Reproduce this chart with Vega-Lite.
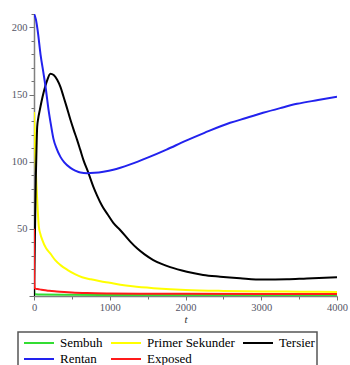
{
  "$schema": "https://vega.github.io/schema/vega-lite/v6.json",
  "width": 303,
  "height": 282,
  "autosize": {"type": "none"},
  "padding": {"left": 34, "top": 14, "right": 13, "bottom": 69},
  "background": "white",
  "config": {
    "view": {"stroke": null},
    "legend": {"strokeColor": "#555555", "strokeWidth": 1.5}
  },
  "data": {
    "values": [
      {"s": "Sembuh", "t": 0, "v": 10},
      {"s": "Sembuh", "t": 3, "v": 4},
      {"s": "Sembuh", "t": 8, "v": 1.8},
      {"s": "Sembuh", "t": 20, "v": 1.3},
      {"s": "Sembuh", "t": 100, "v": 1.1},
      {"s": "Sembuh", "t": 500, "v": 0.9},
      {"s": "Sembuh", "t": 1000, "v": 0.8},
      {"s": "Sembuh", "t": 2000, "v": 0.7},
      {"s": "Sembuh", "t": 3000, "v": 0.7},
      {"s": "Sembuh", "t": 4000, "v": 0.7},

      {"s": "Primer Sekunder", "t": 0, "v": 137},
      {"s": "Primer Sekunder", "t": 8, "v": 122},
      {"s": "Primer Sekunder", "t": 18, "v": 103},
      {"s": "Primer Sekunder", "t": 28, "v": 88},
      {"s": "Primer Sekunder", "t": 42, "v": 72},
      {"s": "Primer Sekunder", "t": 63, "v": 52},
      {"s": "Primer Sekunder", "t": 85, "v": 46},
      {"s": "Primer Sekunder", "t": 108, "v": 42},
      {"s": "Primer Sekunder", "t": 160, "v": 35.5},
      {"s": "Primer Sekunder", "t": 217, "v": 31.5},
      {"s": "Primer Sekunder", "t": 283, "v": 26.5},
      {"s": "Primer Sekunder", "t": 350, "v": 23},
      {"s": "Primer Sekunder", "t": 440, "v": 19.5},
      {"s": "Primer Sekunder", "t": 540, "v": 16.3},
      {"s": "Primer Sekunder", "t": 635, "v": 14},
      {"s": "Primer Sekunder", "t": 750, "v": 12.4},
      {"s": "Primer Sekunder", "t": 876, "v": 11},
      {"s": "Primer Sekunder", "t": 1000, "v": 9.8},
      {"s": "Primer Sekunder", "t": 1140, "v": 8.4},
      {"s": "Primer Sekunder", "t": 1300, "v": 7.2},
      {"s": "Primer Sekunder", "t": 1578, "v": 5.8},
      {"s": "Primer Sekunder", "t": 1800, "v": 5},
      {"s": "Primer Sekunder", "t": 2000, "v": 4.5},
      {"s": "Primer Sekunder", "t": 2500, "v": 3.8},
      {"s": "Primer Sekunder", "t": 3000, "v": 3.4},
      {"s": "Primer Sekunder", "t": 3500, "v": 3.2},
      {"s": "Primer Sekunder", "t": 4000, "v": 3.0},

      {"s": "Tersier", "t": 0, "v": 0},
      {"s": "Tersier", "t": 8, "v": 30},
      {"s": "Tersier", "t": 16, "v": 60},
      {"s": "Tersier", "t": 25, "v": 90},
      {"s": "Tersier", "t": 34, "v": 112},
      {"s": "Tersier", "t": 42, "v": 126},
      {"s": "Tersier", "t": 55, "v": 132},
      {"s": "Tersier", "t": 77, "v": 138.6},
      {"s": "Tersier", "t": 100, "v": 145},
      {"s": "Tersier", "t": 130, "v": 152.3},
      {"s": "Tersier", "t": 170, "v": 160},
      {"s": "Tersier", "t": 217, "v": 165.5},
      {"s": "Tersier", "t": 260, "v": 164.5},
      {"s": "Tersier", "t": 306, "v": 161},
      {"s": "Tersier", "t": 350, "v": 155.5},
      {"s": "Tersier", "t": 389, "v": 148.6},
      {"s": "Tersier", "t": 430, "v": 141},
      {"s": "Tersier", "t": 481, "v": 131.2},
      {"s": "Tersier", "t": 525, "v": 123.5},
      {"s": "Tersier", "t": 569, "v": 116.3},
      {"s": "Tersier", "t": 610, "v": 109},
      {"s": "Tersier", "t": 652, "v": 101.4},
      {"s": "Tersier", "t": 718, "v": 91.7},
      {"s": "Tersier", "t": 784, "v": 81.3},
      {"s": "Tersier", "t": 833, "v": 74.8},
      {"s": "Tersier", "t": 900, "v": 67},
      {"s": "Tersier", "t": 975, "v": 60.5},
      {"s": "Tersier", "t": 1047, "v": 54.4},
      {"s": "Tersier", "t": 1140, "v": 49},
      {"s": "Tersier", "t": 1271, "v": 40.5},
      {"s": "Tersier", "t": 1360, "v": 35.5},
      {"s": "Tersier", "t": 1460, "v": 31},
      {"s": "Tersier", "t": 1575, "v": 26.8},
      {"s": "Tersier", "t": 1700, "v": 23.5},
      {"s": "Tersier", "t": 1798, "v": 21.5},
      {"s": "Tersier", "t": 2018, "v": 18.1},
      {"s": "Tersier", "t": 2233, "v": 15.7},
      {"s": "Tersier", "t": 2457, "v": 14.4},
      {"s": "Tersier", "t": 2721, "v": 13.2},
      {"s": "Tersier", "t": 3024, "v": 12.2},
      {"s": "Tersier", "t": 3340, "v": 12.4},
      {"s": "Tersier", "t": 3603, "v": 13.1},
      {"s": "Tersier", "t": 4000, "v": 13.9},

      {"s": "Rentan", "t": 0, "v": 210},
      {"s": "Rentan", "t": 25, "v": 206},
      {"s": "Rentan", "t": 50, "v": 197},
      {"s": "Rentan", "t": 86, "v": 180},
      {"s": "Rentan", "t": 125, "v": 166},
      {"s": "Rentan", "t": 152, "v": 156},
      {"s": "Rentan", "t": 191, "v": 139},
      {"s": "Rentan", "t": 225, "v": 127},
      {"s": "Rentan", "t": 257, "v": 117},
      {"s": "Rentan", "t": 300, "v": 109.5},
      {"s": "Rentan", "t": 349, "v": 103.6},
      {"s": "Rentan", "t": 400, "v": 99.5},
      {"s": "Rentan", "t": 481, "v": 95.4},
      {"s": "Rentan", "t": 550, "v": 93.2},
      {"s": "Rentan", "t": 613, "v": 91.9},
      {"s": "Rentan", "t": 700, "v": 91.5},
      {"s": "Rentan", "t": 800, "v": 91.8},
      {"s": "Rentan", "t": 916, "v": 92.6},
      {"s": "Rentan", "t": 1047, "v": 94},
      {"s": "Rentan", "t": 1140, "v": 95.5},
      {"s": "Rentan", "t": 1271, "v": 98},
      {"s": "Rentan", "t": 1500, "v": 103},
      {"s": "Rentan", "t": 1750, "v": 109},
      {"s": "Rentan", "t": 2000, "v": 115.5},
      {"s": "Rentan", "t": 2250, "v": 121.5},
      {"s": "Rentan", "t": 2589, "v": 129},
      {"s": "Rentan", "t": 2800, "v": 132.5},
      {"s": "Rentan", "t": 3024, "v": 136.4},
      {"s": "Rentan", "t": 3250, "v": 139.9},
      {"s": "Rentan", "t": 3472, "v": 143.1},
      {"s": "Rentan", "t": 3750, "v": 145.9},
      {"s": "Rentan", "t": 4000, "v": 148.3},

      {"s": "Exposed", "t": 0, "v": 50},
      {"s": "Exposed", "t": 2, "v": 30},
      {"s": "Exposed", "t": 4, "v": 12},
      {"s": "Exposed", "t": 8, "v": 6},
      {"s": "Exposed", "t": 20, "v": 5.5},
      {"s": "Exposed", "t": 50, "v": 5.2},
      {"s": "Exposed", "t": 100, "v": 4.6},
      {"s": "Exposed", "t": 150, "v": 4.2},
      {"s": "Exposed", "t": 200, "v": 3.9},
      {"s": "Exposed", "t": 300, "v": 3.3},
      {"s": "Exposed", "t": 400, "v": 2.9},
      {"s": "Exposed", "t": 500, "v": 2.6},
      {"s": "Exposed", "t": 700, "v": 2.2},
      {"s": "Exposed", "t": 1000, "v": 1.9},
      {"s": "Exposed", "t": 1500, "v": 1.7},
      {"s": "Exposed", "t": 2000, "v": 1.6},
      {"s": "Exposed", "t": 3000, "v": 1.5},
      {"s": "Exposed", "t": 4000, "v": 1.5}
    ]
  },
  "mark": {"type": "line", "strokeWidth": 2, "interpolate": "monotone", "clip": true},
  "encoding": {
    "x": {
      "field": "t",
      "type": "quantitative",
      "scale": {"domain": [0, 4000], "nice": false, "zero": false},
      "axis": {
        "values": [0, 500, 1000, 1500, 2000, 2500, 3000, 3500, 4000],
        "format": "d",
        "labelExpr": "datum.value % 1000 === 0 ? datum.label : ''",
        "grid": false,
        "domainColor": "#808080",
        "domainWidth": 1.5,
        "tickColor": "#707070",
        "tickSize": {"condition": {"test": "datum.value % 1000 === 0", "value": 4}, "value": 3},
        "labelFont": "Liberation Serif, DejaVu Serif, serif",
        "labelFontSize": 10.5,
        "labelColor": "#555566",
        "labelPadding": 2,
        "labelOverlap": false,
        "labelFlush": false,
        "labelBound": false,
        "title": "t",
        "titleFont": "Liberation Serif, DejaVu Serif, serif",
        "titleFontStyle": "italic",
        "titleFontWeight": "normal",
        "titleFontSize": 11,
        "titleColor": "#333333",
        "titlePadding": 1
      }
    },
    "y": {
      "field": "v",
      "type": "quantitative",
      "scale": {"domain": [0, 210], "nice": false},
      "axis": {
        "values": [0, 10, 20, 30, 40, 50, 60, 70, 80, 90, 100, 110, 120, 130, 140, 150, 160, 170, 180, 190, 200, 210],
        "labelExpr": "datum.value % 50 === 0 && datum.value > 0 ? datum.label : ''",
        "grid": false,
        "domainColor": "#808080",
        "domainWidth": 1.5,
        "tickColor": "#707070",
        "tickSize": {"condition": {"test": "datum.value % 50 === 0", "value": 5}, "value": 3},
        "labelFont": "Liberation Serif, DejaVu Serif, serif",
        "labelFontSize": 10.5,
        "labelColor": "#555566",
        "labelPadding": 2,
        "labelOverlap": false,
        "labelFlush": false,
        "labelBound": false,
        "title": null
      }
    },
    "color": {
      "field": "s",
      "type": "nominal",
      "scale": {
        "domain": ["Sembuh", "Rentan", "Primer Sekunder", "Exposed", "Tersier"],
        "range": ["#33dd33", "#2222ee", "#ffff00", "#ff1a1a", "#000000"]
      },
      "legend": {
        "orient": "none",
        "legendX": -16,
        "legendY": 318,
        "columns": 3,
        "title": null,
        "symbolType": "M-1.875,0H1.875",
        "symbolSize": 256,
        "symbolStrokeWidth": 2,
        "symbolOffset": 10,
        "labelFont": "Liberation Serif, DejaVu Serif, serif",
        "labelFontSize": 13,
        "labelColor": "#000000",
        "labelOffset": 12,
        "labelLimit": 0,
        "columnPadding": 4,
        "rowPadding": -1,
        "padding": 2
      }
    }
  }
}
